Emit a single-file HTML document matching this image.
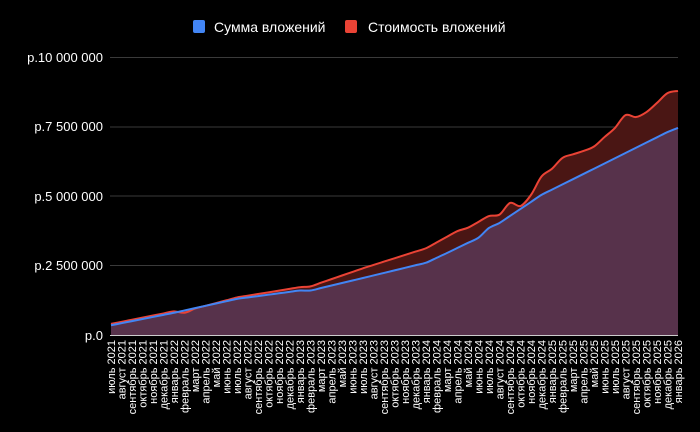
<!DOCTYPE html>
<html><head><meta charset="utf-8"><style>
html,body{margin:0;padding:0;background:#000;}
svg{display:block;}
text{font-family:"Liberation Sans",sans-serif;fill:#fff;}
</style></head><body>
<svg id="s" width="700" height="432" xmlns="http://www.w3.org/2000/svg">
<rect width="700" height="432" fill="#000"/>
<rect x="193" y="20" width="12" height="13" rx="2" fill="#4285f4"/>
<text x="214" y="32" font-size="14">Сумма вложений</text>
<rect x="345" y="20" width="12" height="13" rx="2" fill="#ea4335"/>
<text x="368" y="32" font-size="14">Стоимость вложений</text>
<g stroke="#3a3a3a" stroke-width="1">
<line x1="110" x2="678" y1="57.5" y2="57.5"/>
<line x1="110" x2="678" y1="127" y2="127"/>
<line x1="110" x2="678" y1="196" y2="196"/>
<line x1="110" x2="678" y1="265.5" y2="265.5"/>
</g>
<g font-size="13" text-anchor="end">
<text x="103" y="62">р.10 000 000</text>
<text x="103" y="131">р.7 500 000</text>
<text x="103" y="201">р.5 000 000</text>
<text x="103" y="270">р.2 500 000</text>
<text x="103" y="340">р.0</text>
</g>
<g id="plot"></g>
<line x1="110" x2="678" y1="335.5" y2="335.5" stroke="#ccc" stroke-width="1"/>
<g id="lab" font-size="11" text-anchor="end"></g>
</svg>
<script>
var N=55,x0=111,x1=678,st=(x1-x0)/(N-1),y0=335,sc=27.8;
function interp(a){var o=[];for(var i=0;i<N;i++){for(var k=0;k<a.length-1;k++){if(i>=a[k][0]&&i<=a[k+1][0]){var t=(i-a[k][0])/(a[k+1][0]-a[k][0]);o.push(a[k][1]+t*(a[k+1][1]-a[k][1]));break;}}}return o;}
var blue=interp([[0,.35],[6,.8],[12,1.3],[18,1.6],[19,1.6],[24,2.05],[30,2.6],[32,2.95],[35,3.5],[36,3.85],[37,4.03],[41,5.04],[53,7.3],[54,7.45]]);
var red=interp([[0,.4],[6,.85],[7,.8],[8,.95],[12,1.35],[18,1.72],[19,1.75],[24,2.4],[30,3.12],[33,3.74],[34,3.86],[36,4.28],[37,4.33],[38,4.75],[39,4.64],[40,5.04],[41,5.7],[42,5.98],[43,6.37],[44,6.5],[45,6.62],[46,6.78],[47,7.12],[48,7.45],[49,7.91],[50,7.84],[51,8.02],[52,8.35],[53,8.7],[54,8.78]]);
function pts(v){return v.map(function(d,i){return [x0+i*st,y0-d*sc];});}
function path(p){var d="M"+p[0][0]+","+p[0][1];for(var i=0;i<p.length-1;i++){var a=p[Math.max(i-1,0)],b=p[i],c=p[i+1],e=p[Math.min(i+2,p.length-1)];d+=" C"+(b[0]+(c[0]-a[0])/6)+","+(b[1]+(c[1]-a[1])/6)+" "+(c[0]-(e[0]-b[0])/6)+","+(c[1]-(e[1]-b[1])/6)+" "+c[0]+","+c[1];}return d;}
var pr=pts(red),pb=pts(blue),dr=path(pr),db=path(pb);
var g=document.getElementById('plot');
g.innerHTML='<path d="'+dr+' L'+x1+','+y0+' L'+x0+','+y0+'Z" fill="#4a1614"/>'+
'<path d="'+db+' L'+x1+','+y0+' L'+x0+','+y0+'Z" fill="#57324b"/>'+
'<path d="'+dr+'" fill="none" stroke="#ea4335" stroke-width="2"/>'+
'<path d="'+db+'" fill="none" stroke="#4285f4" stroke-width="2"/>';
var m=["январь","февраль","март","апрель","май","июнь","июль","август","сентябрь","октябрь","ноябрь","декабрь"];
var L=document.getElementById('lab'),h="";
for(var i=0;i<N;i++){var mi=(6+i)%12,yr=2021+Math.floor((6+i)/12);var x=x0+i*st+4;h+='<text transform="translate('+x+',340) rotate(-90)">'+m[mi]+' '+yr+'</text>';}
L.innerHTML=h;
</script>
</body></html>
